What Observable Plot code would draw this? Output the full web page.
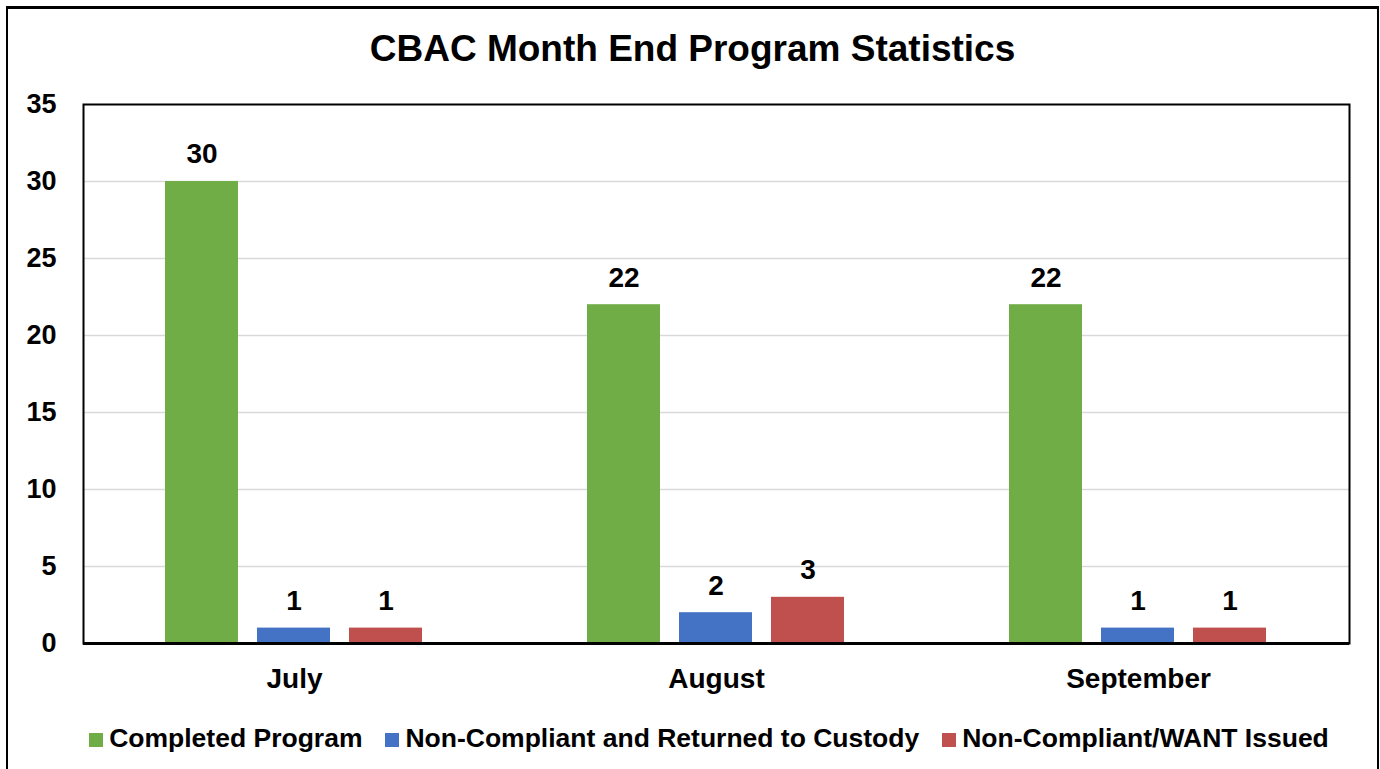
<!DOCTYPE html>
<html>
<head>
<meta charset="utf-8">
<script src="https://cdn.jsdelivr.net/npm/d3@7"></script>
<script src="https://cdn.jsdelivr.net/npm/@observablehq/plot@0.6"></script>
<style>
  html, body { margin: 0; padding: 0; background: #fff; }
  body { width: 1380px; height: 769px; overflow: hidden; position: relative; font-family: "Liberation Sans", Arial, sans-serif; }
  #border { position: absolute; left: 6px; top: 6px; width: 1373px; height: 820px; box-sizing: border-box; border: 2px solid #000; border-top-width: 3px; pointer-events: none; }
  #title { position: absolute; left: 7px; width: 1371px; top: 30px; text-align: center; font-size: 37px; font-weight: bold; line-height: 1; color: #000; }
  #chart { position: absolute; left: 0; top: 80px; }
  #legend { position: absolute; left: 0; width: 1380px; box-sizing: border-box; padding-left: 38px; top: 725px; display: flex; justify-content: center; align-items: center; font-size: 26.5px; font-weight: bold; line-height: 1; color: #000; }
  .item { display: flex; align-items: center; margin: 0 11.5px; }
  .sw { width: 14px; height: 14px; margin-right: 6px; margin-top: 3px; }
</style>
</head>
<body>
<div id="title"></div>
<div id="chart"></div>
<div id="legend"></div>
<div id="border"></div>
<script>
const titleText = "CBAC Month End Program Statistics";
const months = ["July", "August", "September"];
const series = ["Completed Program", "Non-Compliant and Returned to Custody", "Non-Compliant/WANT Issued"];
const completed = [30, 22, 22];
const returned = [1, 2, 1];
const wantIssued = [1, 3, 1];
const colors = ["#70AD47", "#4472C4", "#C0504D"];
const yTicks = [0, 5, 10, 15, 20, 25, 30, 35];

const data = months.flatMap((m, i) => [
  {month: m, series: series[0], value: completed[i]},
  {month: m, series: series[1], value: returned[i]},
  {month: m, series: series[2], value: wantIssued[i]}
]);

document.getElementById("title").textContent = titleText;

const chart = Plot.plot({
  width: 1380,
  height: 625,
  marginTop: 24,
  marginBottom: 62,
  marginLeft: 82,
  marginRight: 30,
  style: {fontFamily: "'Liberation Sans', Arial, sans-serif", background: "transparent", color: "#000", overflow: "visible"},
  fx: {domain: months, padding: 0, label: null, axis: null},
  x: {domain: series, paddingInner: 0.204, paddingOuter: 0.875, axis: null},
  y: {domain: [0, 35], axis: null},
  color: {domain: series, range: colors},
  marks: [
    Plot.gridY(yTicks.filter(t => t > 0 && t < 35), {stroke: "#d9d9d9", strokeOpacity: 1, strokeWidth: 1.5}),
    Plot.barY(data, {fx: "month", x: "series", y: "value", fill: "series"}),
    Plot.text(data, {fx: "month", x: "series", y: "value", text: d => String(d.value), dy: -27, fontSize: 28, fontWeight: "bold", fill: "#000"}),
    Plot.ruleY([0], {stroke: "#000", strokeWidth: 3}),
    Plot.frame({facet: "super", stroke: "#000", strokeWidth: 2}),
    Plot.axisY(yTicks, {tickSize: 0, tickPadding: 27, fontSize: 27, fontWeight: "bold", fill: "#000", label: null}),
    Plot.axisFx({anchor: "bottom", tickSize: 0, tickPadding: 25, fontSize: 28, fontWeight: "bold", fill: "#000", label: null})
  ]
});
document.getElementById("chart").appendChild(chart);

const legend = document.getElementById("legend");
series.forEach((s, i) => {
  const item = document.createElement("div");
  item.className = "item";
  const sw = document.createElement("span");
  sw.className = "sw";
  sw.style.background = colors[i];
  const label = document.createElement("span");
  label.textContent = s;
  item.appendChild(sw);
  item.appendChild(label);
  legend.appendChild(item);
});
</script>
</body>
</html>
